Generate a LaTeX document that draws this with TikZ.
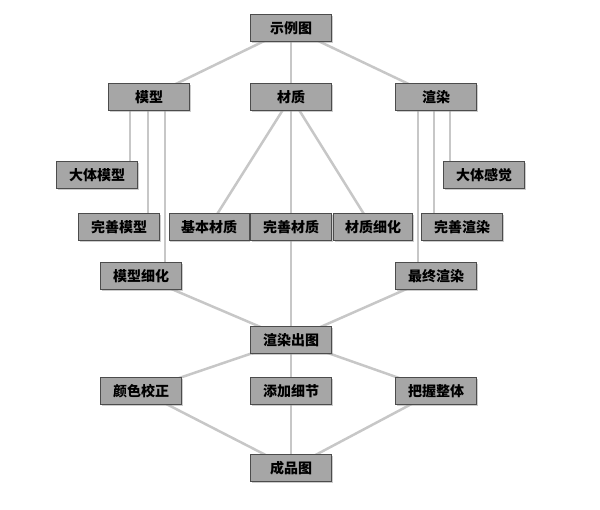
\documentclass[tikz,border=0pt]{standalone}
\usepackage{fontspec}
\newfontfamily\cjk{Noto Sans CJK SC}
\usetikzlibrary{shadows}
\begin{document}
\begin{tikzpicture}[x=1pt,y=-1pt,
 box/.style={draw=black!70,fill=black!35,line width=0.8pt,minimum width=81pt,minimum height=27pt,inner sep=0pt,font=\cjk\bfseries\fontsize{14}{14}\selectfont,drop shadow={shadow xshift=1pt,shadow yshift=-1pt,fill=black!40}},
 ln/.style={draw=black!22,line width=2.5pt}]
\useasboundingbox (0,0) rectangle (600,509);
\begin{scope}[on background layer/.try]
\end{scope}
% lines first
\coordinate (t) at (291,28);
\coordinate (m) at (149,97);
\coordinate (c) at (291,97);
\coordinate (r) at (436,97);
\coordinate (o) at (291,340);
\coordinate (f) at (291,468);
\draw[ln] (t) -- (m); \draw[ln] (t) -- (c); \draw[ln] (t) -- (r);
\draw[ln] (130,97) -- (130,175); \draw[ln] (148,97) -- (148,227); \draw[ln] (165,97) -- (165,276);
\draw[ln] (c) -- (209,227); \draw[ln] (c) -- (372,227); \draw[ln] (c) -- (o);
\draw[ln] (418,97) -- (418,276); \draw[ln] (434,97) -- (434,227); \draw[ln] (450,97) -- (450,175);
\draw[ln] (141,276) -- (o); \draw[ln] (436,276) -- (o);
\draw[ln] (o) -- (141,391); \draw[ln] (o) -- (436,391); \draw[ln] (o) -- (f);
\draw[ln] (141,391) -- (f); \draw[ln] (436,391) -- (f);
\node[box] (n1) at (t) {示例图};
\node[box] (n2) at (m) {模型};
\node[box] (n3) at (c) {材质};
\node[box] (n4) at (r) {渲染};
\node[box] (n5) at (97,175) {大体模型};
\node[box] (n6) at (119,227) {完善模型};
\node[box] (n7) at (141,276) {模型细化};
\node[box,minimum width=80pt] (n8) at (209,227) {基本材质};
\node[box] (n9) at (291,227) {完善材质};
\node[box,minimum width=79pt] (n10) at (373,227) {材质细化};
\node[box] (n11) at (484,175) {大体感觉};
\node[box] (n12) at (462,227) {完善渲染};
\node[box] (n13) at (436,276) {最终渲染};
\node[box] (n14) at (o) {渲染出图};
\node[box] (n15) at (141,391) {颜色校正};
\node[box] (n16) at (291,391) {添加细节};
\node[box] (n17) at (436,391) {把握整体};
\node[box] (n18) at (f) {成品图};
\end{tikzpicture}
\end{document}
